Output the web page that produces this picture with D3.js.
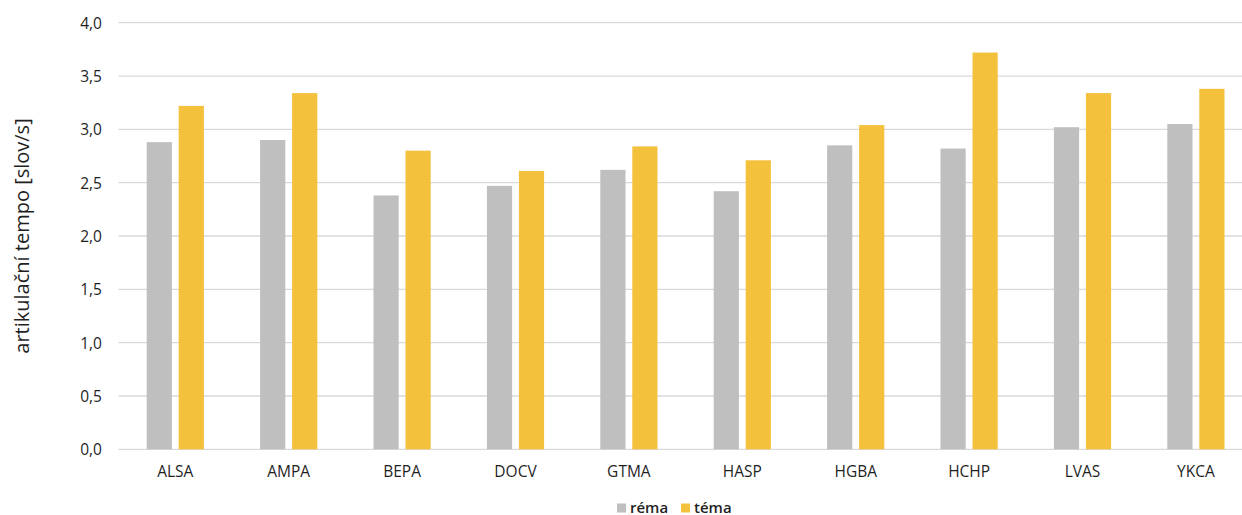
<!DOCTYPE html>
<html>
<head>
<meta charset="utf-8">
<script src="https://cdn.jsdelivr.net/npm/d3@7"></script>
<style>
  html, body { margin: 0; padding: 0; background: #fff; }
  svg { display: block; }
  text { font-family: "Open Sans", "DejaVu Sans", sans-serif; fill: #1f1f1f; }
</style>
</head>
<body>
<svg id="chart" width="1242" height="515"></svg>
<script>
// Speakers on the x axis
const speakers = ["ALSA", "AMPA", "BEPA", "DOCV", "GTMA", "HASP", "HGBA", "HCHP", "LVAS", "YKCA"];
// Articulation rate (words per second) per speaker
const rema = [2.88, 2.90, 2.38, 2.47, 2.62, 2.42, 2.85, 2.82, 3.02, 3.05];
const tema = [3.22, 3.34, 2.80, 2.61, 2.84, 2.71, 3.04, 3.72, 3.34, 3.38];
const seriesNames = ["réma", "téma"];
const seriesColors = ["#bfbfbf", "#f4c13d"];
const yTicks = [0, 0.5, 1, 1.5, 2, 2.5, 3, 3.5, 4];
const yTitle = "artikulační tempo [slov/s]";

const svg = d3.select("#chart");
const W = 1242;

const plot = { left: 118.6, right: 1252.6, top: 22.7, bottom: 449.3 };

const x0 = d3.scaleBand().domain(speakers).range([plot.left, plot.right]).padding(0);
const x1 = d3.scaleBand().domain(seriesNames)
  .range([28.1, 85.3]).paddingInner(0.2125).paddingOuter(0);
const y = d3.scaleLinear().domain([0, 4]).range([plot.bottom, plot.top]);

const fmt = v => d3.format(".1f")(v).replace(".", ",");

// Horizontal gridlines
svg.append("g").selectAll("line").data(yTicks).join("line")
  .attr("x1", plot.left).attr("x2", Math.min(plot.right, W))
  .attr("y1", d => y(d)).attr("y2", d => y(d))
  .attr("stroke", "#d9d9d9").attr("stroke-width", 1.3);

// Y tick labels
const yAxis = d3.axisLeft(y).tickValues(yTicks).tickFormat(fmt).tickSize(0).tickPadding(0);
const gy = svg.append("g").attr("transform", `translate(102,0)`).call(yAxis);
gy.select(".domain").remove();
gy.selectAll("text").attr("font-size", 15.5).attr("font-family", "'Open Sans', sans-serif")
  .attr("fill", "#1f1f1f").attr("dy", "0.35em");

// Bars
const rows = speakers.map((s, i) => ({ s, vals: [rema[i], tema[i]] }));
const groups = svg.append("g").selectAll("g").data(rows).join("g")
  .attr("transform", d => `translate(${x0(d.s)},0)`);
groups.selectAll("rect")
  .data(d => d.vals.map((v, k) => ({ v, k })))
  .join("rect")
  .attr("x", d => x1(seriesNames[d.k]))
  .attr("width", x1.bandwidth())
  .attr("y", d => y(d.v))
  .attr("height", d => y(0) - y(d.v))
  .attr("fill", d => seriesColors[d.k]);

// X category labels
const xAxis = d3.axisBottom(x0).tickSize(0).tickPadding(0);
const gx = svg.append("g").call(xAxis);
gx.select(".domain").remove();
gx.selectAll(".tick").attr("transform", d => `translate(${x0(d) + x0.bandwidth() / 2},477)`);
gx.selectAll("text").attr("y", 0).attr("dy", 0).attr("font-size", 15.5)
  .attr("font-family", "'Open Sans', sans-serif").attr("fill", "#1f1f1f");

// Y axis title
svg.append("text")
  .attr("transform", "translate(29,236) rotate(-90)")
  .attr("text-anchor", "middle")
  .attr("font-size", 20)
  .attr("fill", "#1f1f1f")
  .text(yTitle);

// Legend
const legend = svg.append("g");
const legendX = [617, 681];
seriesNames.forEach((name, k) => {
  legend.append("rect").attr("x", legendX[k]).attr("y", 503.5).attr("width", 9).attr("height", 9)
    .attr("fill", seriesColors[k]);
  legend.append("text").attr("x", legendX[k] + 13).attr("y", 512.5)
    .attr("font-size", 15).attr("font-weight", 600).attr("fill", "#1f1f1f").text(name);
});
</script>
</body>
</html>
